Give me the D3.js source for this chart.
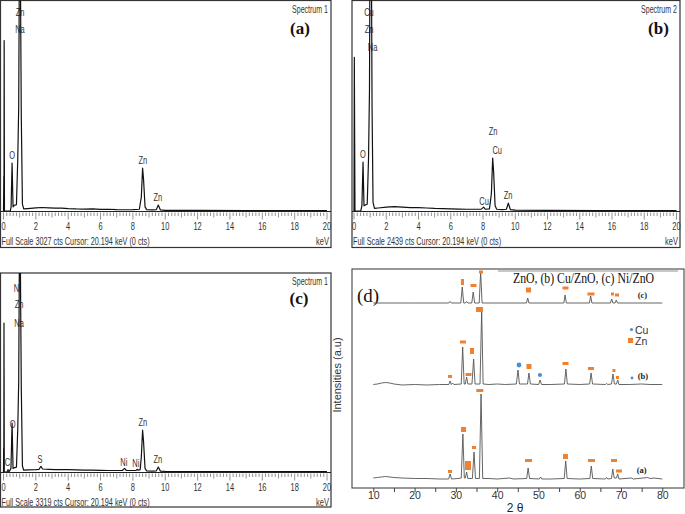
<!DOCTYPE html>
<html><head><meta charset="utf-8">
<script src="https://cdn.jsdelivr.net/npm/d3@7"></script>
<style>body{margin:0;background:#fff}svg{display:block}</style>
</head><body>
<svg id="chart" width="685" height="514"></svg>
<script>
// ---------------- DATA ----------------
// EDS spectra: [keV, counts]
const edsA = [[0,0],[0.02,500],[0.03,0],[0.04,2450],[0.06,0],[0.1,0],[0.42,0],[0.47,60],[0.53,690],[0.59,60],[0.66,80],[0.8,90],[0.88,730],[0.94,1500],[0.99,4000],[1.03,4000],[1.07,2500],[1.1,1350],[1.17,100],[1.25,30],[1.5,35],[2.0,45],[2.4,50],[2.8,45],[3.2,40],[3.6,42],[4.0,35],[4.5,30],[5.0,28],[5.5,30],[6.0,22],[6.5,25],[7.0,20],[7.5,18],[8.0,20],[8.4,25],[8.52,200],[8.6,617],[8.66,450],[8.75,60],[8.85,20],[9.2,15],[9.45,20],[9.57,86],[9.7,15],[10,10],[12,8],[15,5],[20,5]];
const edsB = [[0,0],[0.02,1780],[0.06,0],[0.42,0],[0.49,60],[0.56,566],[0.62,60],[0.7,70],[0.82,80],[0.9,600],[0.96,1400],[1.01,4000],[1.05,4000],[1.09,2500],[1.12,1200],[1.18,100],[1.27,30],[1.5,35],[2.0,45],[2.5,50],[3.0,45],[3.5,40],[4.0,38],[4.5,35],[5.0,30],[5.5,28],[6.0,25],[6.5,22],[7.0,20],[7.5,20],[7.9,22],[8.04,45],[8.15,20],[8.4,25],[8.52,200],[8.6,613],[8.66,450],[8.75,60],[8.85,20],[9.2,15],[9.45,20],[9.57,92],[9.7,15],[10,10],[12,8],[15,5],[20,5]];
const edsC = [[0,0],[0.01,400],[0.02,0],[0.03,2485],[0.05,0],[0.1,0],[0.22,0],[0.28,40],[0.34,0],[0.46,60],[0.53,817],[0.59,60],[0.66,70],[0.8,80],[0.88,700],[0.94,1500],[0.99,4000],[1.03,4000],[1.07,2500],[1.1,1400],[1.17,100],[1.25,30],[1.5,35],[2.0,40],[2.2,45],[2.31,95],[2.42,50],[2.8,45],[3.2,40],[3.6,40],[4.0,38],[4.5,35],[5.0,30],[5.5,30],[6.0,28],[6.5,25],[7.0,25],[7.35,25],[7.48,60],[7.6,25],[8.0,25],[8.2,28],[8.26,45],[8.32,30],[8.45,40],[8.52,250],[8.6,700],[8.66,500],[8.75,60],[8.85,20],[9.2,15],[9.45,20],[9.57,83],[9.7,15],[10,10],[12,8],[15,5],[20,5]];

const edsA_labels = [["Zn",1.02,2810],["Na",1.02,2553],["O",0.54,750],["Zn",8.61,674],["Zn",9.54,143]];
const edsB_labels = [["Cu",0.93,2254],["Zn",0.93,2058],["Na",1.15,1850],["O",0.56,613],["Zn",8.63,879],["Cu",8.88,659],["Cu",8.07,69],["Zn",9.56,139]];
const edsC_labels = [["Ni",0.85,3002],["Zn",0.96,2736],["Na",0.96,2419],["O",0.56,734],["C",0.25,100],["S",2.25,150],["Ni",7.44,100],["Ni",8.18,83],["Zn",8.61,767],["Zn",9.54,150]];

const edsFullScale = {a: 3027, b: 2439, c: 3319};
const edsSpectrumNames = {a: "Spectrum 1", b: "Spectrum 2", c: "Spectrum 1"};
const edsTicks = [0,2,4,6,8,10,12,14,16,18,20];

// XRD patterns: [2theta, intensity above own baseline]
const xrdA = [[10,1],[11,1.5],[12,2],[13,2.5],[14,2],[15,1.5],[17,1],[20,0.5],[23,0.5],[26,0],[28.25,0],[28.6,5],[28.95,0],[30.5,0.5],[31.3,1],[31.7,45],[32.05,1],[32.3,1],[32.6,7],[32.9,0.5],[34.0,0.5],[34.4,27],[34.75,0.5],[35.7,0.5],[36.1,85],[36.5,0.5],[38,0.5],[40,0],[43,1],[44,0],[47.15,0.5],[47.5,11],[47.85,0.5],[50.2,0],[50.5,2],[50.8,0],[53,0],[56.25,0.5],[56.6,18],[56.95,0.5],[60,0],[62.45,0.5],[62.8,13],[63.15,0.5],[66.2,0],[66.5,1.5],[66.8,0],[67.7,0.5],[68.0,10],[68.35,1],[68.9,1],[69.2,5],[69.5,0],[72.5,1],[73,0],[76.5,1.5],[77,0.5],[78,1],[80,0]];
const xrdB = [[10,0.5],[11,1],[12,2],[13,2.5],[14,2],[15,1],[17,0],[20,0.5],[23,0],[26,0.5],[28.3,0.5],[28.6,4],[28.9,0.5],[29.2,2],[29.5,0.5],[31.3,1],[31.65,38],[32,1],[32.3,1],[32.6,8],[32.9,1],[33.9,1],[34.3,26],[34.65,1],[35.85,1],[36.25,75],[36.6,1],[38,0.5],[40,1],[42,0.5],[44.65,1],[45.05,15],[45.4,1],[47.35,1],[47.7,12],[48.05,1],[50.05,0.5],[50.4,5],[50.75,0.5],[53,0.5],[56.3,1],[56.65,16],[57,1],[60,0.5],[62.4,1],[62.75,12],[63.1,1],[66.2,0.5],[66.5,1.5],[66.8,0.5],[67.7,1],[68.05,11],[68.4,1],[68.9,1],[69.2,5],[69.5,0.5],[72,0.5],[75,1],[77,0.5],[80,0.5]];
const xrdC = [[10,0],[20,0],[28.3,0],[28.6,1.5],[28.9,0],[31.2,0],[31.55,16],[31.9,0],[32.3,0],[32.6,1.5],[32.9,0],[33.85,0],[34.2,11],[34.55,0],[35.65,0],[36.0,31],[36.35,0],[47.1,0],[47.4,5],[47.7,0],[56.15,0],[56.45,8],[56.75,0],[62.35,0],[62.65,7],[62.95,0],[67.45,0],[67.75,4],[68.05,0],[68.55,0],[68.85,3],[69.15,0],[80,0]];
const xrdOffsets = {a: 9, b: 103, c: 185};

// Phase markers: [2theta, level above own baseline, marker kind]
const znMarksA = [[28.57,7.5,"s"],[31.85,49.5,"q"],[32.94,13.5,"T"],[34.39,31.5,"s"],[35.8,88.5,"W"],[47.59,18.5,"W"],[56.55,22.5,"q"],[62.85,18.5,"W"],[68.3,18.5,"w"],[69.5,8,"w"]];
const znMarksB = [[28.58,8.5,"s"],[31.72,43,"w"],[33.06,10.5,"w"],[33.9,34,"t"],[35.72,75.5,"Q"],[47.71,18.5,"q"],[56.55,21.5,"w"],[62.72,16.5,"w"],[68.29,14.5,"d"],[69.14,7.5,"d"]];
const cuMarksB = [[45.29,20,"L"],[50.37,10,"M"],[72.66,7,"S"]];
const znMarksC = [[31.6,21,"v"],[34.27,17.5,"w"],[36.08,31,"s"],[47.59,13,"q"],[56.55,15,"w"],[62.72,9,"W"],[67.93,9,"d"],[69.02,8,"s"]];
const xrdTraceLabels = [["(a)",75.0,6,"a"],["(b)",75.3,6,"b"],["(c)",75.2,5,"c"]];
const xrdTicks = [10,15,20,25,30,35,40,45,50,55,60,65,70,75,80];
const xrdLegend = ["Cu","Zn"];
const xrdTitle = "ZnO, (b) Cu/ZnO, (c) Ni/ZnO";

// ---------------- DRAWING ----------------
const svg = d3.select("#chart");
const SANS = "'Liberation Sans', Arial, sans-serif";
const SERIF = "'Liberation Serif', 'Times New Roman', serif";
const ORANGE = "#f0812f", BLUE = "#4a8fd4";

function condense(sel, f) {
  sel.each(function () {
    const w = this.getComputedTextLength();
    d3.select(this).attr("textLength", w * f).attr("lengthAdjust", "spacingAndGlyphs");
  });
}

function drawEDS(id, data, labels, L) {
  const g = svg.append("g");
  const x = d3.scaleLinear().domain([0, 20]).range([L.xa, L.xb]);
  const y = d3.scaleLinear().domain([0, edsFullScale[id]]).range([L.base, L.top]);
  // frame
  g.append("rect").attr("x", L.x0).attr("y", L.top).attr("width", L.x1 - L.x0).attr("height", L.y1 - L.top)
    .attr("fill", "none").attr("stroke", "#333").attr("stroke-width", 1.2);
  // baseline axis
  g.append("line").attr("x1", L.x0).attr("x2", L.x1).attr("y1", L.base + 0.5).attr("y2", L.base + 0.5)
    .attr("stroke", "#222").attr("stroke-width", 1.2);
  const minor = d3.range(0, 20.01, 0.2);
  g.selectAll(".mt").data(minor).join("line")
    .attr("x1", d => x(d)).attr("x2", d => x(d))
    .attr("y1", L.base + 1.5)
    .attr("y2", d => L.base + 1.5 + (Math.abs(d % 2) < 0.01 || Math.abs(d % 2 - 2) < 0.01 ? 7 : (Math.abs(d % 1) < 0.01 || Math.abs(d % 1 - 1) < 0.01 ? 5 : 3.5)))
    .attr("stroke", "#666").attr("stroke-width", 0.7);
  g.selectAll(".tl").data(edsTicks).join("text")
    .attr("x", d => x(d)).attr("y", L.base + 19).attr("text-anchor", "middle")
    .attr("font-family", SANS).attr("font-size", 11).attr("fill", "#333").text(d => d)
    .call(condense, 0.68);
  g.append("text").attr("x", L.x0 + 1).attr("y", L.base + 34).attr("font-family", SANS).attr("font-size", 11)
    .attr("fill", "#333").text(`Full Scale ${edsFullScale[id]} cts  Cursor: 20.194 keV (0 cts)`).call(condense, 0.66);
  g.append("text").attr("x", L.x1 - 2).attr("y", L.base + 34).attr("text-anchor", "end").attr("font-family", SANS)
    .attr("font-size", 11).attr("fill", "#333").text("keV").call(condense, 0.68);
  // spectrum name: condensed through a transform so its box is the drawn box
  g.append("text").attr("transform", `translate(${L.x1 - 3},${L.top + 12}) scale(0.64,1)`)
    .attr("text-anchor", "end").attr("font-family", SANS)
    .attr("font-size", 11).attr("fill", "#333").text(edsSpectrumNames[id]);
  g.append("text").attr("x", L.px).attr("y", L.py).attr("text-anchor", "middle").attr("font-family", SERIF)
    .attr("font-size", 17).attr("font-weight", "bold").attr("fill", "#111").text(`(${id})`);
  // element labels
  g.selectAll(".el").data(labels).join("text")
    .attr("x", d => x(d[1])).attr("y", d => y(d[2])).attr("text-anchor", "middle")
    .attr("font-family", SANS).attr("font-size", 11).attr("fill", "#333").text(d => d[0])
    .call(condense, 0.68);
  // spectrum
  const cid = "clip" + id;
  svg.append("clipPath").attr("id", cid).append("rect")
    .attr("x", L.x0).attr("y", L.top).attr("width", L.x1 - L.x0).attr("height", L.base - L.top);
  g.append("path").datum(data).attr("clip-path", `url(#${cid})`)
    .attr("d", d3.line().x(d => x(d[0])).y(d => y(d[1])))
    .attr("fill", "none").attr("stroke", "#111").attr("stroke-width", 1.2).attr("stroke-linejoin", "round");
}

drawEDS("a", edsA, edsA_labels, {x0: 0.5, x1: 331, y1: 247.5, top: 0.5, base: 211, xa: 3.5, xb: 327, px: 300, py: 34});
drawEDS("b", edsB, edsB_labels, {x0: 352, x1: 680, y1: 247.5, top: 0.5, base: 211, xa: 354, xb: 676.5, px: 658.5, py: 34});
drawEDS("c", edsC, edsC_labels, {x0: 0.5, x1: 331, y1: 507, top: 273, base: 472, xa: 3.5, xb: 327, px: 299, py: 304});

// ---- XRD panel (d) ----
const gd = svg.append("g");
const xd = d3.scaleLinear().domain([10, 80]).range([373.3, 662.3]);
const yd = d3.scaleLinear().domain([0, 220]).range([488, 268]);
gd.append("rect").attr("x", 352).attr("y", 269).attr("width", 332).attr("height", 219)
  .attr("fill", "none").attr("stroke", "#444").attr("stroke-width", 1.1);
gd.append("line").attr("x1", 498).attr("x2", 678).attr("y1", 271).attr("y2", 271)
  .attr("stroke", "#b5b5b5").attr("stroke-width", 1.6);

const axis = d3.axisBottom(xd).tickValues(xrdTicks).tickSize(4).tickPadding(0)
  .tickFormat(d => d % 10 === 0 ? d : "");
const ax = gd.append("g").attr("transform", "translate(0,488)").call(axis);
ax.select(".domain").remove();
ax.selectAll("line").attr("stroke", "#444");
ax.selectAll("text").attr("font-family", SANS).attr("font-size", 10.5).attr("fill", "#333");

gd.append("text").attr("x", 515).attr("y", 512).attr("text-anchor", "middle").attr("font-family", SANS)
  .attr("font-size", 12).attr("fill", "#222").text("2 θ");
gd.append("text").attr("transform", "translate(341,375) rotate(-90)").attr("text-anchor", "middle")
  .attr("font-family", SANS).attr("font-size", 11).attr("fill", "#333").text("Intensities (a.u)");
gd.append("text").attr("x", 357).attr("y", 302).attr("font-family", SERIF).attr("font-size", 19)
  .attr("fill", "#111").text("(d)");
gd.append("text").attr("x", 513).attr("y", 283).attr("font-family", SERIF).attr("font-size", 14)
  .attr("fill", "#111").attr("textLength", 141).attr("lengthAdjust", "spacingAndGlyphs").text(xrdTitle);

const traceLine = off => d3.line().x(d => xd(d[0])).y(d => yd(d[1] + off));
[["a", xrdA], ["b", xrdB], ["c", xrdC]].forEach(([k, arr]) => {
  gd.append("path").datum(arr).attr("d", traceLine(xrdOffsets[k]))
    .attr("fill", "none").attr("stroke", "#555").attr("stroke-width", 0.9);
});

const kindSize = {s: [4, 3], w: [6, 3], W: [7, 3], q: [5, 5], t: [4, 6], v: [3, 6], T: [6, 9], Q: [7, 5], d: [3, 3]};
const kindR = {L: 2.4, M: 2.1, S: 1.4};
function drawZn(arr, off) {
  gd.selectAll(null).data(arr).join("rect")
    .attr("x", d => xd(d[0]) - kindSize[d[2]][0] / 2)
    .attr("y", d => yd(d[1] + off) - kindSize[d[2]][1] / 2)
    .attr("width", d => kindSize[d[2]][0]).attr("height", d => kindSize[d[2]][1])
    .attr("fill", ORANGE);
}
drawZn(znMarksA, xrdOffsets.a);
drawZn(znMarksB, xrdOffsets.b);
drawZn(znMarksC, xrdOffsets.c);
gd.selectAll(null).data(cuMarksB).join("circle")
  .attr("cx", d => xd(d[0])).attr("cy", d => yd(d[1] + xrdOffsets.b)).attr("r", d => kindR[d[2]])
  .attr("fill", BLUE);

gd.selectAll(null).data(xrdTraceLabels).join("text")
  .attr("x", d => xd(d[1])).attr("y", d => yd(d[2] + xrdOffsets[d[3]])).attr("text-anchor", "middle")
  .attr("font-family", SERIF).attr("font-size", 8.5).attr("font-weight", "bold").attr("fill", "#222")
  .text(d => d[0]);

// legend
gd.append("circle").attr("cx", 631.5).attr("cy", 329.5).attr("r", 1.6).attr("fill", BLUE);
gd.append("rect").attr("x", 628).attr("y", 338).attr("width", 5).attr("height", 5).attr("fill", ORANGE);
gd.selectAll(null).data(xrdLegend).join("text")
  .attr("x", 635).attr("y", (d, i) => 333.5 + i * 11.5)
  .attr("font-family", SANS).attr("font-size", 10.5).attr("fill", "#333").text(d => d);
</script>
</body></html>
